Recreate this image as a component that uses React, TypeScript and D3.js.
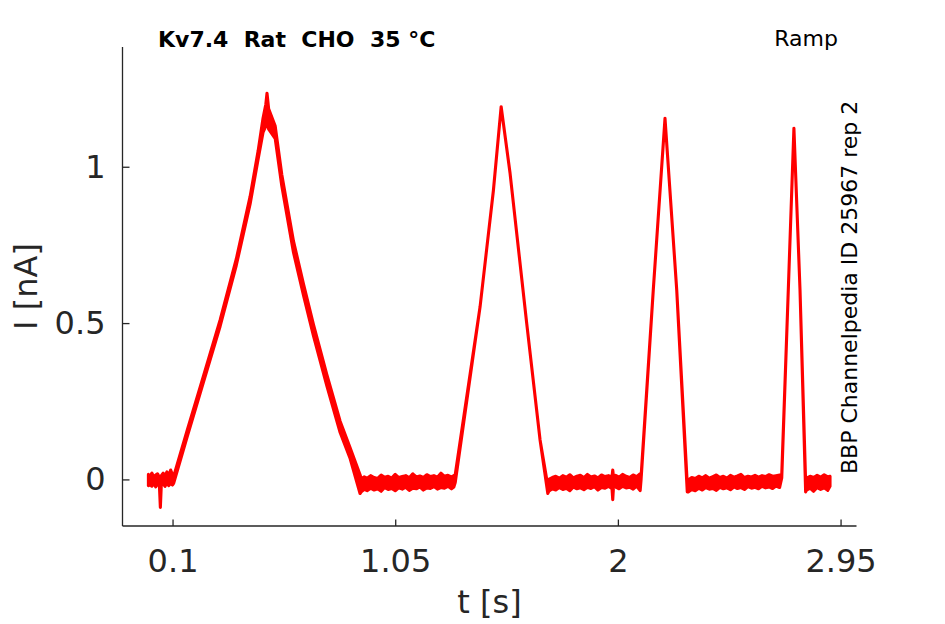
import { useRef, useEffect } from "react";
import * as d3 from "d3";

const tSec: number[] = [
    // holding
    -0.003, 0.004, 0.012, 0.02, 0.028, 0.036, 0.044, 0.048, 0.052, 0.06, 0.068, 0.076, 0.084, 0.092, 0.1, 0.105,
    // ramp 1
    0.163, 0.218, 0.303, 0.372, 0.431, 0.465, 0.486, 0.498, 0.503, 0.51, 0.538, 0.566, 0.616, 0.659, 0.701, 0.758, 0.815, 0.858, 0.9,
    // holding
    0.905, 0.918, 0.93, 0.945, 0.96, 0.975, 0.99, 1.005, 1.02, 1.035, 1.05, 1.065, 1.08, 1.095, 1.11, 1.125, 1.14, 1.155, 1.17, 1.185, 1.2, 1.215, 1.23, 1.245, 1.26, 1.275, 1.29, 1.3,
    // ramp 2
    1.306, 1.412, 1.469, 1.502, 1.54, 1.611, 1.668, 1.701,
    // holding
    1.705, 1.72, 1.735, 1.75, 1.765, 1.78, 1.795, 1.81, 1.825, 1.84, 1.855, 1.87, 1.885, 1.9, 1.915, 1.93, 1.945, 1.96, 1.975, 1.978, 1.981, 1.99, 2.005, 2.02, 2.035, 2.05, 2.065, 2.08, 2.095,
    // ramp 3
    2.099, 2.151, 2.201, 2.251, 2.296,
    // holding
    2.3, 2.315, 2.33, 2.345, 2.36, 2.375, 2.39, 2.405, 2.42, 2.435, 2.45, 2.465, 2.48, 2.495, 2.51, 2.525, 2.54, 2.555, 2.57, 2.585, 2.6, 2.615, 2.63, 2.645, 2.66, 2.675, 2.69,
    // ramp 4
    2.699, 2.727, 2.751, 2.777, 2.801,
    // holding
    2.805, 2.82, 2.835, 2.85, 2.865, 2.88, 2.895, 2.905,
];
const iHigh: number[] = [
    0.016, 0.01, 0.02, 0.008, 0.014, 0.018, 0.006, 0.0, 0.012, 0.02, 0.01, 0.024, 0.012, 0.03, 0.015, 0.01,
    0.158, 0.296, 0.51, 0.705, 0.905, 1.05, 1.155, 1.2, 1.235, 1.185, 1.13, 0.975, 0.762, 0.624, 0.496, 0.336, 0.186, 0.1, 0.015,
    0.002, 0.008, 0.004, 0.012, 0.006, 0.003, 0.014, 0.007, 0.01, 0.004, 0.016, 0.006, 0.009, 0.012, 0.005, 0.018, 0.008, 0.011, 0.006, 0.015, 0.009, 0.012, 0.007, 0.02, 0.01, 0.013, 0.008, 0.012,
    0.015, 0.552, 0.925, 1.192, 0.979, 0.499, 0.126, -0.02,
    0.0, 0.006, 0.01, 0.004, 0.012, 0.007, 0.015, 0.005, 0.01, 0.013, 0.006, 0.016, 0.008, 0.011, 0.005, 0.014, 0.009, 0.012, 0.008, 0.03, 0.01, 0.013, 0.007, 0.016, 0.01, 0.006, 0.014, 0.009, 0.018,
    0.01, 0.606, 1.155, 0.606, -0.015,
    -0.002, 0.006, 0.003, 0.01, 0.005, 0.012, 0.004, 0.009, 0.014, 0.006, 0.01, 0.004, 0.013, 0.007, 0.011, 0.016, 0.006, 0.01, 0.008, 0.013, 0.007, 0.012, 0.009, 0.015, 0.01, 0.012, 0.014,
    0.015, 0.606, 1.123, 0.606, -0.01,
    0.004, 0.01, 0.006, 0.013, 0.007, 0.015, 0.008, 0.01,
];
const iLow: number[] = [
    -0.02, -0.016, -0.022, -0.012, -0.024, -0.015, -0.02, -0.09, -0.018, -0.014, -0.022, -0.01, -0.02, -0.012, -0.018, -0.012,
    0.138, 0.276, 0.49, 0.685, 0.881, 1.024, 1.11, 1.13, 1.15, 1.12, 1.09, 0.939, 0.726, 0.588, 0.46, 0.3, 0.15, 0.066, -0.045,
    -0.04, -0.032, -0.036, -0.028, -0.034, -0.03, -0.038, -0.026, -0.032, -0.029, -0.036, -0.027, -0.031, -0.025, -0.035, -0.028, -0.03, -0.024, -0.034, -0.027, -0.029, -0.023, -0.031, -0.026, -0.028, -0.022, -0.03, -0.024,
    -0.01, 0.552, 0.925, 1.192, 0.979, 0.499, 0.126, -0.045,
    -0.038, -0.03, -0.034, -0.026, -0.032, -0.028, -0.036, -0.024, -0.03, -0.027, -0.033, -0.025, -0.029, -0.023, -0.034, -0.026, -0.028, -0.022, -0.03, -0.065, -0.026, -0.024, -0.03, -0.022, -0.027, -0.025, -0.031, -0.021, -0.036,
    0.0, 0.606, 1.155, 0.606, -0.04,
    -0.04, -0.032, -0.036, -0.028, -0.034, -0.026, -0.031, -0.029, -0.035, -0.025, -0.03, -0.027, -0.033, -0.024, -0.029, -0.026, -0.032, -0.023, -0.028, -0.025, -0.03, -0.022, -0.027, -0.024, -0.029, -0.021, -0.026,
    0.005, 0.606, 1.123, 0.606, -0.04,
    -0.034, -0.028, -0.038, -0.026, -0.032, -0.027, -0.035, -0.022,
];

const xTicks: number[] = [0.1, 1.05, 2, 2.95];
const yTicks: number[] = [0, 0.5, 1];
const xDomain: number[] = [-0.1135, 3.018];
const yDomain: number[] = [-0.149, 1.383];

const W = 945, H = 624;
const margin = { top: 47, right: 88.5, bottom: 98, left: 122.5 };
const font = "'DejaVu Sans', sans-serif";
const axisColor = "#262626";

export default function App() {
    const svgRef = useRef<SVGSVGElement | null>(null);

    useEffect(() => {
        if (!svgRef.current) return;
        const svg = d3.select(svgRef.current);
        svg.selectAll("*").remove();

        const xScale = d3.scaleLinear().domain(xDomain).range([margin.left, W - margin.right]);
        const yScale = d3.scaleLinear().domain(yDomain).range([H - margin.bottom, margin.top]);

        // trace drawn as the band between the noise edges
        const idx = d3.range(tSec.length);
        const band = d3.area<number>()
            .x(i => xScale(tSec[i]))
            .y0(i => yScale(iLow[i]))
            .y1(i => yScale(iHigh[i]));
        svg.append("path")
            .attr("d", band(idx))
            .attr("fill", "#ff0000")
            .attr("stroke", "#ff0000")
            .attr("stroke-width", 3.1)
            .attr("stroke-linejoin", "round");

        // bottom axis, ticks inward
        const xAxis = d3.axisBottom(xScale).tickValues(xTicks).tickSize(-6.5).tickPadding(23.3)
            .tickFormat((d: any) => String(d));
        const gx = svg.append("g")
            .attr("transform", `translate(0,${H - margin.bottom})`)
            .call(xAxis);
        gx.select(".domain").attr("stroke", axisColor).attr("stroke-width", 1.3)
            .attr("d", `M${margin.left},0H${W - margin.right}`);
        gx.selectAll(".tick line").attr("stroke", axisColor).attr("stroke-width", 1.3);
        gx.selectAll(".tick text").attr("fill", axisColor).attr("font-size", 32).attr("font-family", font);

        // left axis
        const yAxis = d3.axisLeft(yScale).tickValues(yTicks).tickSize(-7).tickPadding(17)
            .tickFormat((d: any) => String(d));
        const gy = svg.append("g")
            .attr("transform", `translate(${margin.left},0)`)
            .call(yAxis);
        gy.select(".domain").attr("stroke", axisColor).attr("stroke-width", 1.3)
            .attr("d", `M0,${margin.top}V${H - margin.bottom}`);
        gy.selectAll(".tick line").attr("stroke", axisColor).attr("stroke-width", 1.3);
        gy.selectAll(".tick text").attr("fill", axisColor).attr("font-size", 32).attr("font-family", font);

        // axis labels
        svg.append("text")
            .attr("x", (margin.left + W - margin.right) / 2)
            .attr("y", 613)
            .attr("text-anchor", "middle")
            .attr("font-size", 32).attr("font-family", font).attr("fill", axisColor)
            .text("t [s]");
        svg.append("text")
            .attr("transform", `translate(37,${(margin.top + H - margin.bottom) / 2}) rotate(-90)`)
            .attr("text-anchor", "middle")
            .attr("font-size", 32).attr("font-family", font).attr("fill", axisColor)
            .text("I [nA]");

        // annotations
        svg.append("text")
            .attr("x", 158).attr("y", 47)
            .attr("font-size", 22).attr("font-weight", "bold").attr("font-family", font)
            .attr("fill", "#000").style("white-space", "pre")
            .text("Kv7.4  Rat  CHO  35 °C");
        svg.append("text")
            .attr("x", 838).attr("y", 46)
            .attr("text-anchor", "end")
            .attr("font-size", 22).attr("font-family", font).attr("fill", "#000")
            .text("Ramp");
        svg.append("text")
            .attr("transform", `translate(857,474) rotate(-90)`)
            .attr("font-size", 22).attr("font-family", font).attr("fill", "#000")
            .text("BBP Channelpedia ID 25967 rep 2");
    }, []);

    return (
        <div style={{ position: "fixed", left: 0, top: 0, width: W, height: H, background: "#fff" }}>
            <svg ref={svgRef} width={W} height={H} style={{ display: "block" }} />
        </div>
    );
}
